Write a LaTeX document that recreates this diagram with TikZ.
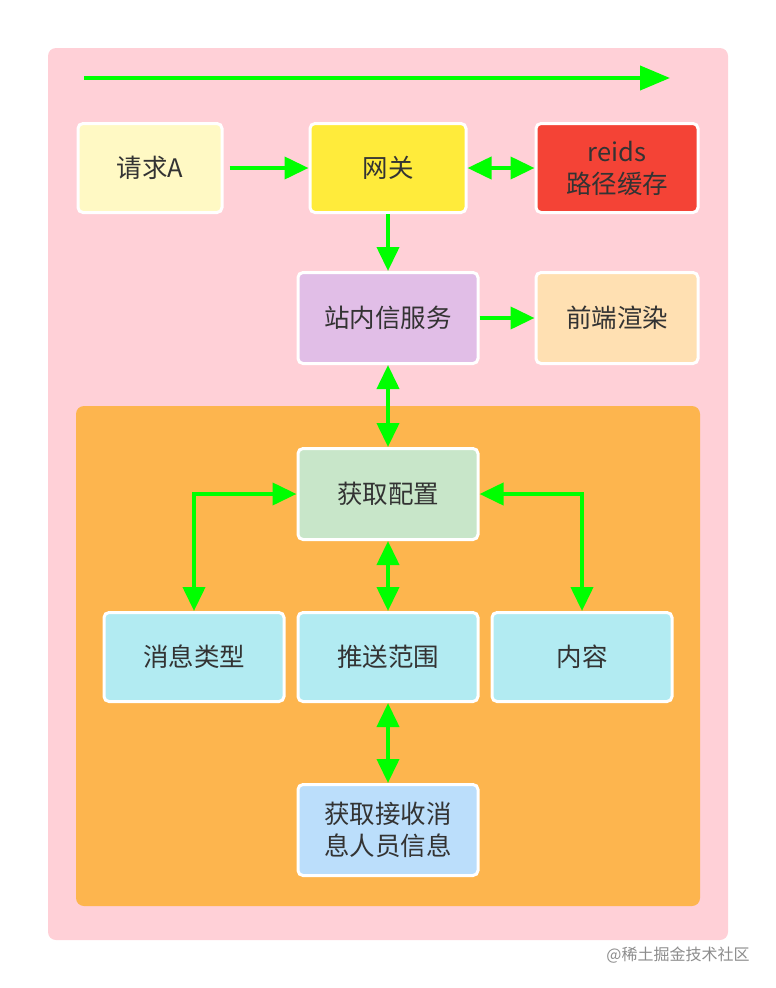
\documentclass[tikz,border=0pt]{standalone}
\usepackage{fontspec}
\setmainfont{Noto Sans CJK SC}
\usetikzlibrary{arrows.meta,positioning}

\definecolor{bgpink}{HTML}{FFD0D7}
\definecolor{bgorange}{HTML}{FDB54E}
\definecolor{flow}{HTML}{00FF00}
\definecolor{txt}{HTML}{333333}

\begin{document}
\begin{tikzpicture}[x=1pt,y=-1pt,>={Triangle[length=24pt,width=22pt]},
  every node/.style={font=\fontsize{25.5}{32}\selectfont,text=txt,align=center},
  box/.style={draw=white,line width=3pt,rounded corners=5pt,inner sep=0pt,minimum height=89pt},
  flowline/.style={draw=flow,line width=4pt}]

\useasboundingbox (0,0) rectangle (776,988);

% backgrounds
\fill[bgpink,rounded corners=8pt] (48,48) rectangle (728,940);
\fill[bgorange,rounded corners=8pt] (76,406) rectangle (700,906);

\coordinate (flowstart) at (84,78);
\coordinate (flowend) at (670,78);
\path[flowline,->,>={Triangle[length=30pt,width=24pt]}] (flowstart) -- (flowend);

% top row
\node[box,fill={rgb,255:red,255;green,249;blue,196},minimum width=144pt] (req)   at (150,168) {请求A};
\node[box,fill={rgb,255:red,255;green,235;blue,59},minimum width=156pt] (gate) at (388,168) {网关};
\node[box,fill={rgb,255:red,244;green,67;blue,54},minimum width=162pt] (redis) at (617,168) {reids\\路径缓存};

\node[box,fill={rgb,255:red,225;green,190;blue,231},minimum width=180pt,minimum height=91pt] (msg)  at (388,318) {站内信服务};
\node[box,fill={rgb,255:red,255;green,224;blue,178},minimum width=162pt,minimum height=91pt] (front) at (617,318) {前端渲染};

% config block
\node[box,fill={rgb,255:red,200;green,230;blue,201},minimum width=180pt,minimum height=91pt] (cfg) at (388,494) {获取配置};
\node[box,fill={rgb,255:red,178;green,235;blue,242},minimum width=180pt] (type)  at (194,657) {消息类型};
\node[box,fill={rgb,255:red,178;green,235;blue,242},minimum width=180pt] (scope) at (388,657) {推送范围};
\node[box,fill={rgb,255:red,178;green,235;blue,242},minimum width=180pt] (body)  at (582,657) {内容};
\node[box,fill={rgb,255:red,187;green,222;blue,251},minimum width=180pt,minimum height=91pt] (who) at (388,830) {获取接收消\\息人员信息};

\node[font=\fontsize{16}{18}\selectfont,text=black!45] (mark) at (678,955) {@稀土掘金技术社区};

\path[flowline,->] (req.east) ++(6,0) -- (gate.west);
\path[flowline,<->] (gate.east) -- (redis.west);
\path[flowline,->] (gate.south) -- (msg.north);
\path[flowline,->] (msg.east) -- (front.west);
\path[flowline,<->] (msg.south) -- (cfg.north);
\path[flowline,<->] (cfg.west) -| (type.north);
\path[flowline,<->] (cfg.east) -| (body.north);
\path[flowline,<->] (cfg.south) -- (scope.north);
\path[flowline,<->] (scope.south) -- (who.north);

\end{tikzpicture}
\end{document}
